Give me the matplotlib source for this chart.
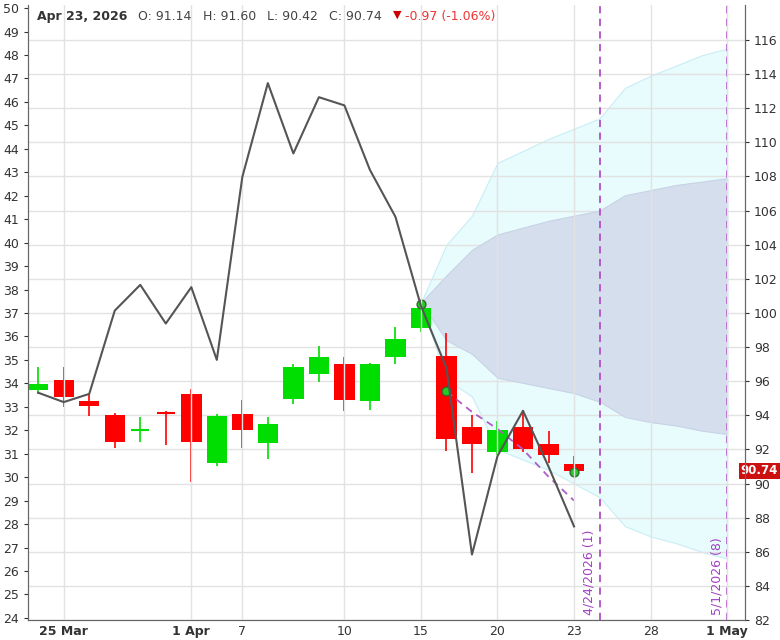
import matplotlib
matplotlib.use("Agg")
import matplotlib.pyplot as plt
import numpy as np

# candles (price, right axis)
opens  = [95.46,96.08,94.84,94.02,93.13,94.16,95.26,91.2,94.09,92.37,94.98,96.43,96.98,94.84,97.39,99.1,97.46,93.3,91.85,93.3,92.3,91.14]
closes = [95.81,95.05,94.57,92.44,93.19,94.09,92.44,93.95,93.13,93.47,96.84,97.39,94.91,96.98,98.49,100.3,92.6,92.3,93.15,92.0,91.7,90.74]
highs  = [96.84,96.84,95.26,94.16,93.88,94.23,95.53,94.09,94.91,93.88,96.98,98.08,97.39,97.04,99.18,100.6,98.8,94.0,93.65,94.3,93.05,91.6]
lows   = [95.25,94.5,93.95,92.09,92.44,92.23,90.1,91.0,92.09,91.41,94.64,95.94,94.23,94.29,96.98,98.9,91.9,90.6,91.7,91.85,91.2,90.42]
# black line (left axis)
line_vals = [33.6,33.2,33.55,37.1,38.2,36.55,38.1,35.0,42.8,46.8,43.8,46.2,45.85,43.1,41.1,37.3,34.65,26.7,30.9,32.83,30.45,27.9]
# dashed projection
dash_idx = [16,17,18,19,20,21]
dash_vals = [95.4,94.2,93.2,92.0,90.4,89.0]
marker_idx = [15,16,21]
marker_vals = [100.5,95.4,90.7]
# forecast bands
band_idx = list(range(15,28))
outer_up = [100.6,104.0,105.7,108.8,109.5,110.2,110.8,111.4,113.2,113.9,114.5,115.1,115.5]
dark_up  = [100.6,102.2,103.7,104.6,105.0,105.4,105.7,106.0,106.9,107.2,107.5,107.7,107.9]
dark_lo  = [100.6,98.4,97.6,96.2,95.9,95.6,95.3,94.8,93.9,93.6,93.4,93.1,92.9]
outer_lo = [100.6,96.1,95.1,92.0,91.4,90.8,90.0,89.2,87.5,86.9,86.5,86.0,85.6]
tick_pos = [1,6,8,12,15,18,21,24,27]
tick_labels = ["25 Mar","1 Apr","7","10","15","20","23","28","1 May"]
vline_pos = [22,27]
vline_labels = ["4/24/2026 (1)","5/1/2026 (8)"]
header = [("Apr 23, 2026", "#333333", "bold"), ("O: 91.14", "#444444", "normal"), ("H: 91.60", "#444444", "normal"),
          ("L: 90.42", "#444444", "normal"), ("C: 90.74", "#444444", "normal"), ("▼", "#cc0000", "normal"),
          ("-0.97 (-1.06%)", "#ee3333", "normal")]

fig = plt.figure(figsize=(7.8,6.4), dpi=100)
fig.patch.set_facecolor("white")
ax = fig.add_axes([28/780, 20/640, 717/780, 615/640])
ax2 = ax.twinx()
ax.set_zorder(ax2.get_zorder()+1); ax.patch.set_visible(False)

x = np.arange(len(opens))
ax2.fill_between(band_idx, outer_lo, outer_up, color="#e8fbfd", edgecolor="#c8eef5", lw=0.8, zorder=1)
ax2.fill_between(band_idx, dark_lo, dark_up, color="#d5deec", edgecolor="#c8d2e6", lw=0.8, zorder=2)
for i in x:
    up = closes[i] >= opens[i]
    c = "#00dd00" if up else "#ff0000"
    ax2.vlines(i, lows[i], highs[i], color=c, lw=1.2, zorder=4)
    h = abs(closes[i]-opens[i])
    if h < 0.15:
        ax2.hlines(opens[i], i-0.35, i+0.35, color=c, lw=1.5, zorder=5)
    else:
        ax2.bar(i, h, bottom=min(opens[i],closes[i]), width=0.8, color=c, zorder=5)
ax2.plot(dash_idx, dash_vals, color="#b05cc8", ls=(0,(4,3)), lw=1.3, zorder=6)
ax2.scatter(marker_idx, marker_vals, s=40, color="#22cc22", edgecolor="#336633", zorder=7)
for p, lab in zip(vline_pos, vline_labels):
    ax2.axvline(p, color="#b050c8", ls=(0,(4,3)), lw=1.3, zorder=3)
    ax2.text(p-0.15, 82.3, lab, rotation=90, color="#a040c0", fontsize=9, ha="right", va="bottom")
ax.plot(x, line_vals, color="#555555", lw=1.5, zorder=8)

ax.set_xlim(-0.4, 27.7)
ax.set_ylim(23.91, 50.13)
ax2.set_ylim(82, 118.05)
ax.set_yticks(range(24,51))
ax2.set_yticks(range(82,117,2))
ax.set_xticks(tick_pos); ax.set_xticklabels(tick_labels)
for lab in ax.get_xticklabels():
    if lab.get_text() in ("25 Mar","1 Apr","1 May"):
        lab.set_fontweight("bold")
ax.tick_params(axis="both", labelsize=9, colors="#333333", length=3)
ax2.tick_params(axis="y", labelsize=9, colors="#333333", length=3)
ax2.grid(axis="y", color="#e2e2e2", lw=1, zorder=0)
ax.grid(axis="x", color="#e2e2e2", lw=1)
ax.tick_params(axis="x", length=0)
for a in (ax, ax2):
    a.spines["top"].set_visible(False)
    for s in a.spines.values():
        s.set_color("#666666")

ax2.annotate("90.74", xy=(1, 90.74), xycoords=("axes fraction","data"), xytext=(-3,0), textcoords="offset points",
             va="center", ha="left", fontsize=8.5, color="white", fontweight="bold",
             bbox=dict(boxstyle="square,pad=0.15", fc="#cc1111", ec="none"), annotation_clip=False, zorder=20)

prev = ax.text(0.012, 0.992, header[0][0], transform=ax.transAxes, fontsize=9, fontweight=header[0][2],
               color=header[0][1], va="top", zorder=20)
for txt, col, wt in header[1:]:
    gap = 3 if txt.startswith("-") else 8
    prev = ax.annotate(txt, xy=(1, 1), xycoords=prev, xytext=(gap, 0), textcoords="offset points",
                       fontsize=8 if txt == "▼" else 9, color=col, fontweight=wt, va="top", ha="left", zorder=20)

fig.savefig("out.png", dpi=100)
